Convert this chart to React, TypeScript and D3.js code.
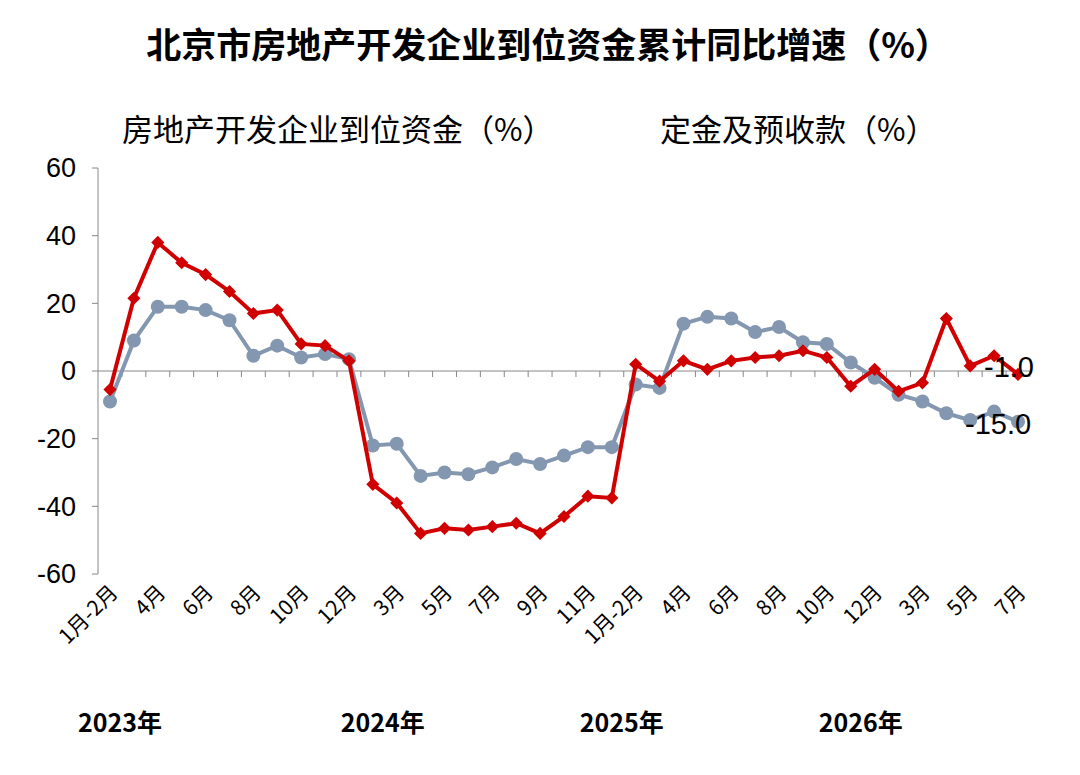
import { useEffect, useRef } from 'react';
import * as d3 from 'd3';

const yearMonths = ['1月-2月', '3月', '4月', '5月', '6月', '7月', '8月', '9月', '10月', '11月', '12月'];
const months2026 = ['1月-2月', '3月', '4月', '5月', '6月', '7月'];
const categories = [
  ...yearMonths.map((m) => `2023-${m}`),
  ...yearMonths.map((m) => `2024-${m}`),
  ...yearMonths.map((m) => `2025-${m}`),
  ...months2026.map((m) => `2026-${m}`),
];
const redValues = [-5.5, 21.5, 38, 32, 28.5, 23.5, 17, 18, 8, 7.5, 3,
  -33.5, -39, -48, -46.5, -47, -46, -45, -48, -43, -37, -37.5,
  2, -3, 3, 0.5, 3, 4, 4.5, 6, 4, -4.5, 0.5,
  -6, -3.5, 15.5, 1.5, 4.5, -1];
const blueValues = [-9, 9, 19, 19, 18, 15, 4.5, 7.5, 4, 5, 3.5,
  -22, -21.5, -31, -30, -30.5, -28.5, -26, -27.5, -25, -22.5, -22.5,
  -4, -5, 14, 16, 15.5, 11.5, 13, 8.5, 8, 2.5, -2,
  -7, -9, -12.5, -14.5, -12, -15];
const yTicks = [60, 40, 20, 0, -20, -40, -60];
const years = [{ label: '2023年', idx: 0 }, { label: '2024年', idx: 11 }, { label: '2025年', idx: 21 }, { label: '2026年', idx: 31 }];

const App = () => {
  const ref = useRef(null);
  useEffect(() => {
    const svg = d3.select(ref.current);
    svg.selectAll('*').remove();
    const font = "'Noto Sans CJK SC', sans-serif";
    const num = 'Liberation Sans, Arial, sans-serif';
    const x = d3.scalePoint().domain(categories).range([110, 1018]);
    const y = d3.scaleLinear().domain([-60, 60]).range([574, 168]);

    svg.append('text').attr('x', 548).attr('y', 58).attr('text-anchor', 'middle')
      .style('font-family', font).style('font-size', '35px').style('font-weight', 'bold')
      .text('北京市房地产开发企业到位资金累计同比增速（%）');
    svg.append('text').attr('x', 122).attr('y', 141).style('font-family', font).style('font-size', '31px')
      .text('房地产开发企业到位资金（%）');
    svg.append('text').attr('x', 660).attr('y', 141).style('font-family', font).style('font-size', '31px')
      .text('定金及预收款（%）');

    svg.append('line').attr('x1', 98).attr('x2', 98).attr('y1', y(60)).attr('y2', y(-60)).attr('stroke', '#888');
    yTicks.forEach((t) => {
      svg.append('line').attr('x1', 92).attr('x2', 98).attr('y1', y(t)).attr('y2', y(t)).attr('stroke', '#888');
      svg.append('text').attr('x', 76).attr('y', y(t)).attr('dy', '0.35em').attr('text-anchor', 'end')
        .style('font-family', num).style('font-size', '27px').text(t);
    });
    svg.append('line').attr('x1', 98).attr('x2', 1030).attr('y1', y(0)).attr('y2', y(0)).attr('stroke', '#888');
    categories.forEach((c) => {
      const px = (x(c) as number) + x.step() / 2;
      svg.append('line').attr('x1', px).attr('x2', px).attr('y1', y(0)).attr('y2', y(0) + 6).attr('stroke', '#888');
    });
    categories.forEach((c, i) => {
      if (i % 2 !== 0) return;
      const px = x(c) as number;
      svg.append('text').attr('transform', `translate(${px + 9},${594}) rotate(-45)`).attr('text-anchor', 'end')
        .style('font-family', font).style('font-size', '21px').text(c.split('-').slice(1).join('-'));
    });
    years.forEach((yr) => {
      svg.append('text').attr('x', (x(categories[yr.idx]) as number) - 32).attr('y', 732)
        .style('font-family', font).style('font-size', '25px').style('font-weight', 'bold').text(yr.label);
    });

    const line = d3.line<number>().x((_, i) => x(categories[i]) as number).y((d) => y(d));
    svg.append('path').attr('d', line(blueValues)).attr('fill', 'none').attr('stroke', '#8497b0').attr('stroke-width', 4);
    svg.selectAll('.bdot').data(blueValues).enter().append('circle')
      .attr('cx', (_, i) => x(categories[i]) as number).attr('cy', (d) => y(d)).attr('r', 7).attr('fill', '#8497b0');
    svg.append('path').attr('d', line(redValues)).attr('fill', 'none').attr('stroke', '#d00000').attr('stroke-width', 4);
    const diamond = d3.symbol().type(d3.symbolDiamond2).size(110);
    svg.selectAll('.rdot').data(redValues).enter().append('path').attr('d', diamond)
      .attr('transform', (d, i) => `translate(${x(categories[i])},${y(d)})`).attr('fill', '#d00000');

    svg.append('text').attr('x', 984).attr('y', 377).style('font-family', num)
      .style('font-size', '29px').text(redValues[redValues.length - 1].toFixed(1));
    svg.append('text').attr('x', 965).attr('y', 434).style('font-family', num)
      .style('font-size', '29px').text(blueValues[blueValues.length - 1].toFixed(1));
  }, []);
  return <svg ref={ref} width={1080} height={775} style={{ position: 'absolute', left: 0, top: 0, background: '#fff' }} />;
};

export default App;
